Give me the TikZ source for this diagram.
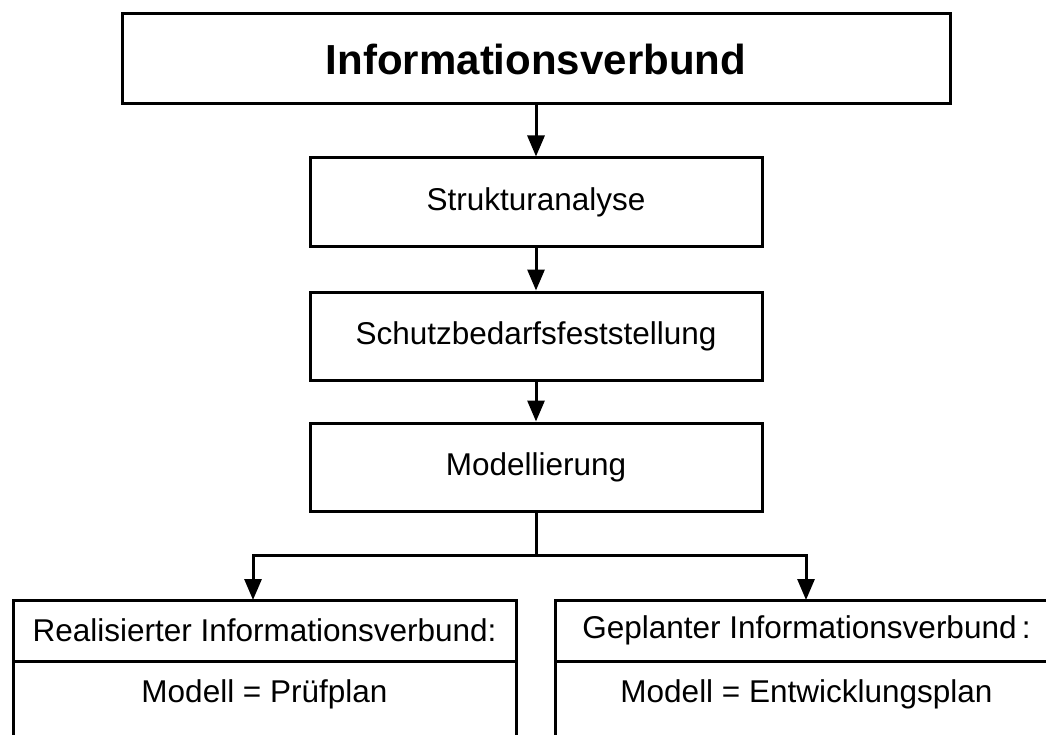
\documentclass[tikz,border=0pt]{standalone}
\usepackage{fontspec}
\setmainfont{Liberation Sans}
\usetikzlibrary{arrows.meta}
\begin{document}
\begin{tikzpicture}[x=1pt,y=-1pt,
  box/.style={draw=black,line width=3pt,rectangle,inner sep=0pt,fill=white},
  txt/.style={font=\fontsize{31.5}{36}\selectfont},
  arr/.style={draw=black,line width=3pt,-{Triangle[length=21pt,width=17pt]}},
  conn/.style={draw=black,line width=3pt}]
\useasboundingbox (0,0) rectangle (1046,735);
\clip (0,0) rectangle (1046,735);
\fill[white] (0,0) rectangle (1046,735);
% top box
\node[box,minimum width=828pt,minimum height=90pt,font=\fontsize{42}{48}\selectfont\bfseries] (info) at (536,59) {Informationsverbund};
\node[box,txt,minimum width=452pt,minimum height=89pt] (sa) at (536,202.5) {Strukturanalyse};
\node[box,txt,minimum width=452pt,minimum height=88pt] (sb) at (536,336) {Schutzbedarfsfeststellung};
\node[box,txt,minimum width=452pt,minimum height=88pt] (mod) at (536,467) {Modellierung};
% bottom boxes
\node[box,txt,minimum width=503pt,minimum height=61pt] (realh) at (264.5,630.5) {Realisierter Informationsverbund:};
\node[box,minimum width=503pt,minimum height=139pt] (realb) at (264.5,730.5) {};
\node[txt] (realt) at (264.5,694) {Modell = Prüfplan};
\node[box,txt,minimum width=503pt,minimum height=61pt] (planh) at (806.5,630.5) {Geplanter Informationsverbund\,:};
\node[box,minimum width=503pt,minimum height=139pt] (planb) at (806.5,730.5) {};
\node[txt] (plant) at (806.5,694) {Modell = Entwicklungsplan};
% connectors
\draw[arr] (info) -- (sa);
\draw[arr] (sa) -- (sb);
\draw[arr] (sb) -- (mod);
\coordinate (j) at (536,555);
\coordinate (lt) at (253,600);
\coordinate (rt) at (806,600);
\draw[conn] (mod) -- (j);
\draw[arr] (j) -| (lt);
\draw[arr] (j) -| (rt);
\end{tikzpicture}
\end{document}
